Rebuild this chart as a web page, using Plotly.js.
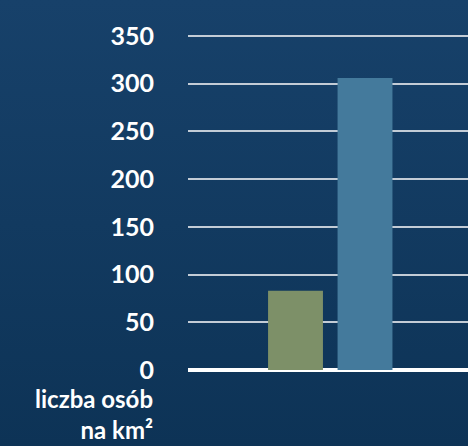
<!DOCTYPE html>
<html>
<head>
<meta charset="utf-8">
<script src="https://cdn.plot.ly/plotly-3.0.1.min.js"></script>
<style>
html,body{margin:0;padding:0;}
body{width:468px;height:446px;background:linear-gradient(180deg,#17416a 0%,#123a60 50%,#0d3356 100%);overflow:hidden;}
#chart{width:468px;height:446px;}
</style>
</head>
<body>
<div id="chart"></div>
<script>
const categories = ['A', 'B'];
const values = [83, 306];
const barColors = ['#7d9068', '#447a9c'];
const tickValues = [0, 50, 100, 150, 200, 250, 300, 350];
const axisLabel = 'liczba osób<br>na km²';

const trace = {
  type: 'bar',
  x: categories,
  y: values,
  marker: {color: barColors},
  hoverinfo: 'none'
};

const layout = {
  width: 468,
  height: 446,
  margin: {l: 188, r: 0, t: 34, b: 76},
  paper_bgcolor: 'rgba(0,0,0,0)',
  plot_bgcolor: 'rgba(0,0,0,0)',
  bargap: 0.21,
  showlegend: false,
  xaxis: {
    type: 'category',
    range: [-1.547, 2.482],
    showticklabels: false,
    showgrid: false,
    zeroline: false,
    showline: false,
    ticks: ''
  },
  yaxis: {
    range: [0, 352],
    tickvals: tickValues,
    ticktext: tickValues.map(String),
    showgrid: true,
    gridcolor: '#c3ccd6',
    gridwidth: 2,
    zeroline: true,
    zerolinecolor: '#ffffff',
    zerolinewidth: 4,
    showline: false,
    ticks: '',
    ticklabelstandoff: 33,
    tickfont: {family: 'Lato', size: 25, color: '#ffffff', weight: 'bold'}
  },
  annotations: [{
    text: axisLabel,
    xref: 'paper', yref: 'paper',
    x: -0.118, y: -0.036,
    xanchor: 'right', yanchor: 'top',
    align: 'right',
    showarrow: false,
    font: {family: 'Lato', size: 24, color: '#ffffff', weight: 'bold'}
  }]
};

Plotly.newPlot('chart', [trace], layout, {displayModeBar: false, staticPlot: true});
</script>
</body>
</html>
